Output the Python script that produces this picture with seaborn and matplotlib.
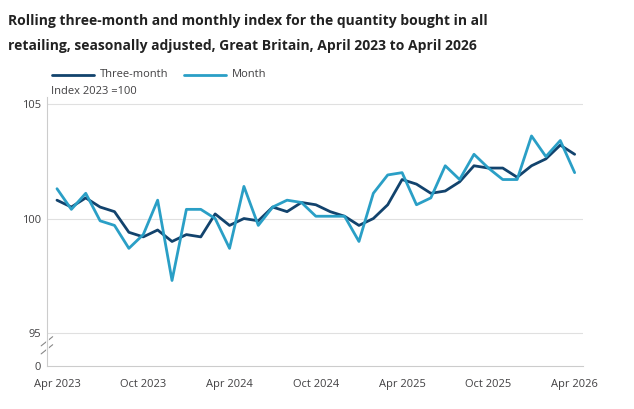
import matplotlib.pyplot as plt
import numpy as np
import pandas as pd
import seaborn as sns

three_month = [100.8, 100.5, 100.9, 100.5, 100.3, 99.4, 99.2, 99.5, 99.0, 99.3, 99.2, 100.2,
               99.7, 100.0, 99.9, 100.5, 100.3, 100.7, 100.6, 100.3, 100.1, 99.7, 100.0, 100.6,
               101.7, 101.5, 101.1, 101.2, 101.6, 102.3, 102.2, 102.2, 101.8, 102.3, 102.6, 103.2, 102.8]
month = [101.3, 100.4, 101.1, 99.9, 99.7, 98.7, 99.3, 100.8, 97.3, 100.4, 100.4, 100.0,
         98.7, 101.4, 99.7, 100.5, 100.8, 100.7, 100.1, 100.1, 100.1, 99.0, 101.1, 101.9,
         102.0, 100.6, 100.9, 102.3, 101.7, 102.8, 102.2, 101.7, 101.7, 103.6, 102.7, 103.4, 102.0]
tick_labels = ["Apr 2023", "Oct 2023", "Apr 2024", "Oct 2024", "Apr 2025", "Oct 2025", "Apr 2026"]

idx = np.arange(len(month))
df = pd.DataFrame({"idx": np.concatenate([idx, idx]),
                   "value": three_month + month,
                   "series": ["Three-month"] * len(idx) + ["Month"] * len(idx)})

sns.set_style("white")
plt.rcParams['font.family'] = ["Open Sans", "DejaVu Sans"]
fig = plt.figure(figsize=(6.34, 4.09), dpi=100)
ax = fig.add_axes([0.074, 0.105, 0.846, 0.658])
palette = {"Three-month": "#12436d", "Month": "#2a9fc6"}
sns.lineplot(data=df, x="idx", y="value", hue="series", palette=palette, linewidth=2, ax=ax, legend=False)

ax.set_xlim(-0.7, 36.6)
ybot = 93.57
ax.set_ylim(ybot, 105.3)
ax.set_yticks([ybot, 95, 100, 105])
ax.set_yticklabels(["0", "95", "100", "105"])
ax.set_xticks(np.arange(0, 37, 6))
ax.set_xticklabels(tick_labels)
for y in [95, 100, 105]:
    ax.axhline(y, color="#e0e0e0", lw=0.8, zorder=0)
ax.tick_params(axis="both", labelsize=8, colors="#414042", length=0, pad=4)
ax.tick_params(axis="x", length=5, color="#d0d0d0", direction="out")
for s in ["top", "right"]:
    ax.spines[s].set_visible(False)
ax.spines["left"].set_color("#cccccc")
ax.spines["bottom"].set_color("#cccccc")
ax.set_xlabel("")
ax.set_ylabel("")
# axis break marks
for dy in [0, 0.35]:
    ax.plot([-1.1, -0.3], [94.1 + dy, 94.5 + dy], color="#888888", lw=0.8, clip_on=False)
ax.plot([-0.7, -0.7], [94.15, 94.8], color="white", lw=2, clip_on=False)

fig.text(0.08, 0.77, "Index 2023 =100", fontsize=8, color="#414042")
fig.text(0.013, 0.965, "Rolling three-month and monthly index for the quantity bought in all",
         fontsize=10, fontweight="bold", color="#222222", va="top")
fig.text(0.013, 0.905, "retailing, seasonally adjusted, Great Britain, April 2023 to April 2026",
         fontsize=10, fontweight="bold", color="#222222", va="top")
# legend
fig.lines.append(plt.Line2D([0.082, 0.148], [0.817, 0.817], color=palette["Three-month"], lw=2, transform=fig.transFigure))
fig.text(0.158, 0.817, "Three-month", fontsize=8, color="#414042", va="center")
fig.lines.append(plt.Line2D([0.29, 0.356], [0.817, 0.817], color=palette["Month"], lw=2, transform=fig.transFigure))
fig.text(0.366, 0.817, "Month", fontsize=8, color="#414042", va="center")

plt.savefig("out.png", dpi=100)
